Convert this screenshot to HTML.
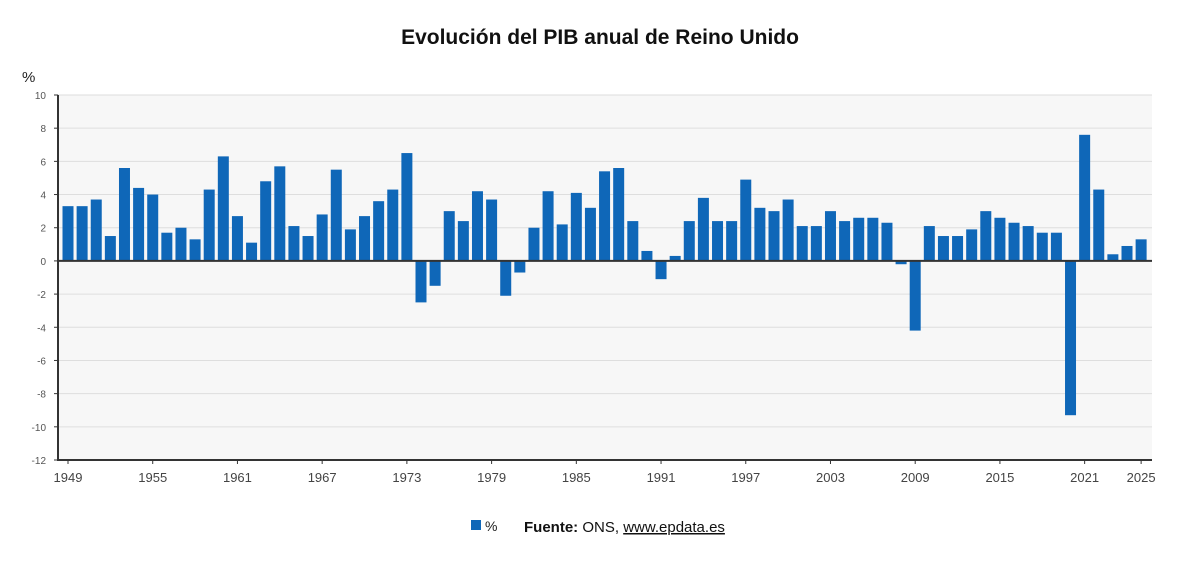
<!DOCTYPE html>
<html><head><meta charset="utf-8"><style>
body{margin:0;background:#fff;font-family:"Liberation Sans","DejaVu Sans",sans-serif}
</style></head><body>
<svg width="1200" height="565">
<text x="600" y="44" text-anchor="middle" font-size="21" font-weight="bold" fill="#111">Evolución del PIB anual de Reino Unido</text>
<text x="22" y="82" font-size="15" fill="#222">%</text>
<rect x="58" y="95" width="1094" height="365" fill="#f7f7f7"/>
<g id="grid"></g><g id="bars"></g><g id="axes"></g>
<g>
<rect x="471" y="520" width="10" height="10" fill="#0f67b8"/>
<text x="485" y="531" font-size="14" fill="#222">%</text>
<text x="524" y="532" font-size="15" fill="#111"><tspan font-weight="bold">Fuente:</tspan> ONS, <tspan text-decoration="underline">www.epdata.es</tspan></text>
</g>
</svg>
<script>
const years=[];for(let y=1949;y<=2025;y++)years.push(y);
const values=[3.3,3.3,3.7,1.5,5.6,4.4,4.0,1.7,2.0,1.3,4.3,6.3,2.7,1.1,4.8,5.7,2.1,1.5,2.8,5.5,1.9,2.7,3.6,4.3,6.5,-2.5,-1.5,3.0,2.4,4.2,3.7,-2.1,-0.7,2.0,4.2,2.2,4.1,3.2,5.4,5.6,2.4,0.6,-1.1,0.3,2.4,3.8,2.4,2.4,4.9,3.2,3.0,3.7,2.1,2.1,3.0,2.4,2.6,2.6,2.3,-0.2,-4.2,2.1,1.5,1.5,1.9,3.0,2.6,2.3,2.1,1.7,1.7,-9.3,7.6,4.3,0.4,0.9,1.3];
const yTicks=[10,8,6,4,2,0,-2,-4,-6,-8,-10,-12];
const xLabels=[1949,1955,1961,1967,1973,1979,1985,1991,1997,2003,2009,2015,2021,2025];
const NS="http://www.w3.org/2000/svg";
const yS=v=>95+(10-v)*(365/22);
const xS=yr=>68+(yr-1949)*14.12;
function mk(t,a,p){const e=document.createElementNS(NS,t);for(const k in a)e.setAttribute(k,a[k]);p.appendChild(e);return e;}
const grid=document.getElementById('grid'),bars=document.getElementById('bars'),axes=document.getElementById('axes');
yTicks.forEach(v=>{
 const l=mk('line',{x1:58,x2:1152,y1:yS(v),y2:yS(v),stroke:'#dedede'},grid);
 
 
 const t=mk('text',{x:46,y:yS(v)+4,'text-anchor':'end','font-size':10,fill:'#555'},axes);
 t.textContent=v;
 
 
 mk('line',{x1:54,x2:58,y1:yS(v),y2:yS(v),stroke:'#333'},axes);
});
values.forEach((v,i)=>{
 const x=xS(years[i]),y0=yS(0),y1=yS(v);
 const r=mk('rect',{x:x-5.5,y:Math.min(y0,y1),width:11,height:Math.abs(y1-y0),fill:'#0f67b8'},bars);
 
 
});
mk('line',{x1:58,x2:1152,y1:yS(0),y2:yS(0),stroke:'#333','stroke-width':2},axes);
mk('line',{x1:58,x2:58,y1:95,y2:461,stroke:'#333','stroke-width':2},axes);
mk('line',{x1:58,x2:1152,y1:460,y2:460,stroke:'#333','stroke-width':2},axes);
xLabels.forEach(yr=>{
 mk('line',{x1:xS(yr),x2:xS(yr),y1:460,y2:464,stroke:'#333'},axes);
 const t=mk('text',{x:xS(yr),y:482,'text-anchor':'middle','font-size':13,fill:'#444'},axes);
 t.textContent=yr;
 
 
});
</script>
</body></html>
